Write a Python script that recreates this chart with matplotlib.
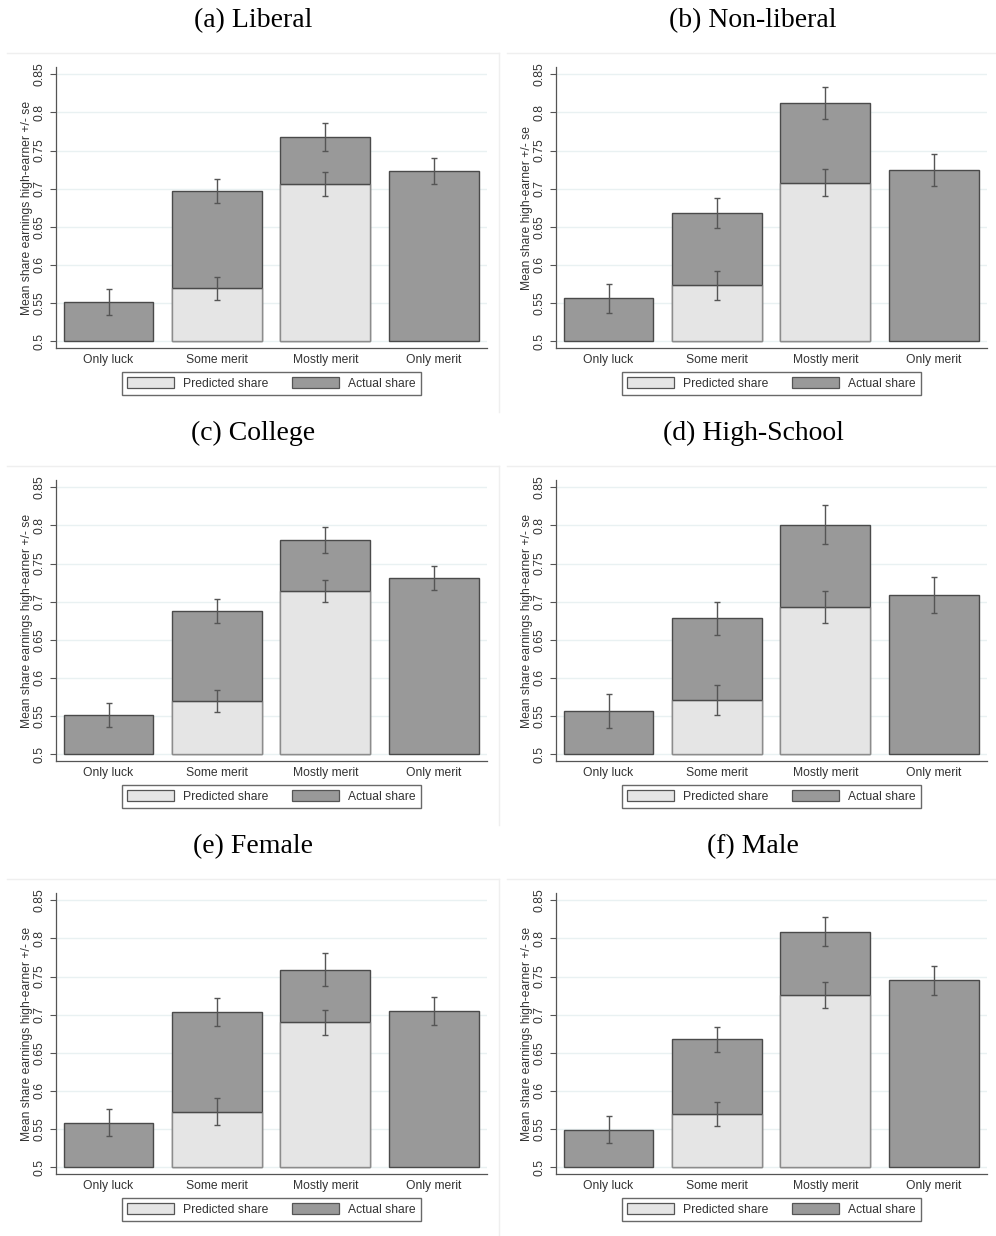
import numpy as np
import matplotlib
matplotlib.use("Agg")
import matplotlib.pyplot as plt
from matplotlib.patches import Patch
from matplotlib.lines import Line2D

# ---- data -------------------------------------------------------------
categories = ["Only luck", "Some merit", "Mostly merit", "Only merit"]
panel_titles = ["(a) Liberal", "(b) Non-liberal", "(c) College",
                "(d) High-School", "(e) Female", "(f) Male"]
ylabels = ["Mean share earnings high-earner +/- se",
           "Mean share high-earner +/- se",
           "Mean share earnings high-earner +/- se",
           "Mean share earnings high-earner +/- se",
           "Mean share earnings high-earner +/- se",
           "Mean share earnings high-earner +/- se"]
yticks = [0.5, 0.55, 0.6, 0.65, 0.7, 0.75, 0.8, 0.85]
ytick_labels = ["0.5", "0.55", "0.6", "0.65", "0.7", "0.75", "0.8", "0.85"]

nan = np.nan
liberal_actual = [0.551, 0.697, 0.768, 0.723]
liberal_actual_se = [0.017, 0.016, 0.018, 0.017]
liberal_pred = [nan, 0.569, 0.706, nan]
liberal_pred_se = [nan, 0.015, 0.0155, nan]

nonliberal_actual = [0.556, 0.668, 0.812, 0.725]
nonliberal_actual_se = [0.019, 0.020, 0.021, 0.021]
nonliberal_pred = [nan, 0.573, 0.708, nan]
nonliberal_pred_se = [nan, 0.0186, 0.018, nan]

college_actual = [0.551, 0.688, 0.781, 0.731]
college_actual_se = [0.0158, 0.0156, 0.017, 0.0156]
college_pred = [nan, 0.570, 0.7135, nan]
college_pred_se = [nan, 0.0145, 0.0144, nan]

highschool_actual = [0.556, 0.678, 0.801, 0.709]
highschool_actual_se = [0.0223, 0.0213, 0.0256, 0.0237]
highschool_pred = [nan, 0.571, 0.693, nan]
highschool_pred_se = [nan, 0.020, 0.0215, nan]

female_actual = [0.558, 0.703, 0.759, 0.705]
female_actual_se = [0.0177, 0.0184, 0.0215, 0.0184]
female_pred = [nan, 0.5726, 0.690, nan]
female_pred_se = [nan, 0.0175, 0.0164, nan]

male_actual = [0.549, 0.668, 0.809, 0.745]
male_actual_se = [0.0177, 0.0164, 0.019, 0.0186]
male_pred = [nan, 0.570, 0.726, nan]
male_pred_se = [nan, 0.0158, 0.0169, nan]

panels = [
    (liberal_actual, liberal_actual_se, liberal_pred, liberal_pred_se),
    (nonliberal_actual, nonliberal_actual_se, nonliberal_pred, nonliberal_pred_se),
    (college_actual, college_actual_se, college_pred, college_pred_se),
    (highschool_actual, highschool_actual_se, highschool_pred, highschool_pred_se),
    (female_actual, female_actual_se, female_pred, female_pred_se),
    (male_actual, male_actual_se, male_pred, male_pred_se),
]

# ---- style ------------------------------------------------------------
W, H = 996, 1236
BASE = 0.5
ACTUAL_FILL, ACTUAL_EDGE = "#999999", "#4a4a4a"
PRED_FILL, PRED_EDGE = "#e5e5e5", "#8c8c8c"
ERR_COLOR = "#555555"
GRID_COLOR = "#e9f1f2"
TEXT_COLOR = "#333333"
FS = 8.7

plt.rcParams["font.family"] = ["Liberation Sans", "DejaVu Sans"]

fig = plt.figure(figsize=(W / 100, H / 100), dpi=100)
fig.patch.set_facecolor("white")


def px_rect(x0, y0, x1, y1):
    """Pixel box (top-left origin) -> figure-fraction rect."""
    return [x0 / W, 1 - y1 / H, (x1 - x0) / W, (y1 - y0) / H]


x = np.arange(len(categories))
width = 0.83

for i, (act, act_se, pred, pred_se) in enumerate(panels):
    r, c = divmod(i, 2)
    ox, oy = 500 * c, 413 * r

    # faint frame of the graph region
    right_edge = 499 + ox if c == 0 else 995.5
    fig.add_artist(Line2D([(7 + ox) / W, right_edge / W],
                          [1 - (53.3 + oy) / H] * 2,
                          color="#efefef", lw=1.0, transform=fig.transFigure))
    if c == 0:
        fig.add_artist(Line2D([right_edge / W] * 2,
                              [1 - (53.3 + oy) / H, 1 - (411.7 + oy) / H],
                              color="#efefef", lw=1.0, transform=fig.transFigure))

    # panel title
    fig.text((253 + ox) / W, 1 - (26.7 + oy) / H, panel_titles[i],
             family=["Liberation Serif", "DejaVu Serif"], fontsize=20,
             ha="center", va="baseline", color="black")

    ax = fig.add_axes(px_rect(55.7 + ox, 66.7 + oy, 486.9 + ox, 348.3 + oy))
    ax.set_xlim(-0.487, 3.49)
    ax.set_ylim(0.4905, 0.86)

    for yv in yticks:
        ax.axhline(yv, color=GRID_COLOR, lw=1.0, zorder=0)

    act = np.asarray(act, float)
    pred = np.asarray(pred, float)
    act_se = np.asarray(act_se, float)
    pred_se = np.asarray(pred_se, float)

    ax.bar(x, act - BASE, width, bottom=BASE, color=ACTUAL_FILL,
           edgecolor=ACTUAL_EDGE, linewidth=1.0, zorder=2)
    has_pred = ~np.isnan(pred)
    ax.bar(x[has_pred], pred[has_pred] - BASE, width, bottom=BASE,
           color=PRED_FILL, edgecolor=PRED_EDGE, linewidth=1.0, zorder=3)
    ax.hlines(pred[has_pred], x[has_pred] - width / 2, x[has_pred] + width / 2,
              color=ACTUAL_EDGE, lw=1.0, zorder=4)

    ax.errorbar(x, act, yerr=act_se, fmt="none", ecolor=ERR_COLOR,
                elinewidth=1.0, capsize=2.3, capthick=1.0, zorder=5)
    ax.errorbar(x[has_pred], pred[has_pred], yerr=pred_se[has_pred], fmt="none",
                ecolor=ERR_COLOR, elinewidth=1.0, capsize=2.3, capthick=1.0,
                zorder=5)

    for side in ("top", "right"):
        ax.spines[side].set_visible(False)
    for side in ("left", "bottom"):
        ax.spines[side].set_color("#555555")
        ax.spines[side].set_linewidth(0.9)

    ax.set_yticks(yticks)
    ax.set_yticklabels(ytick_labels, rotation=90, va="center",
                       fontsize=FS, color=TEXT_COLOR)
    ax.tick_params(axis="y", length=4, width=0.8, color="#555555", pad=3)
    ax.set_xticks(x)
    ax.set_xticklabels(categories, fontsize=FS, color=TEXT_COLOR)
    ax.tick_params(axis="x", length=0, pad=4)
    ax.set_ylabel(ylabels[i], fontsize=FS, color=TEXT_COLOR, labelpad=1)

    handles = [Patch(facecolor=PRED_FILL, edgecolor="#555555", lw=0.9),
               Patch(facecolor=ACTUAL_FILL, edgecolor="#555555", lw=0.9)]
    leg = ax.legend(handles, ["Predicted share", "Actual share"], ncol=2,
                    loc="center", bbox_to_anchor=(0.5, -0.1257),
                    fontsize=FS, frameon=True, fancybox=False,
                    handlelength=3.9, handleheight=1.0, handletextpad=0.7,
                    columnspacing=2.0, borderpad=0.45, borderaxespad=0)
    leg.get_frame().set_edgecolor("#444444")
    leg.get_frame().set_linewidth(1.0)
    for t in leg.get_texts():
        t.set_color(TEXT_COLOR)

fig.savefig("out.png", dpi=100, facecolor="white")
